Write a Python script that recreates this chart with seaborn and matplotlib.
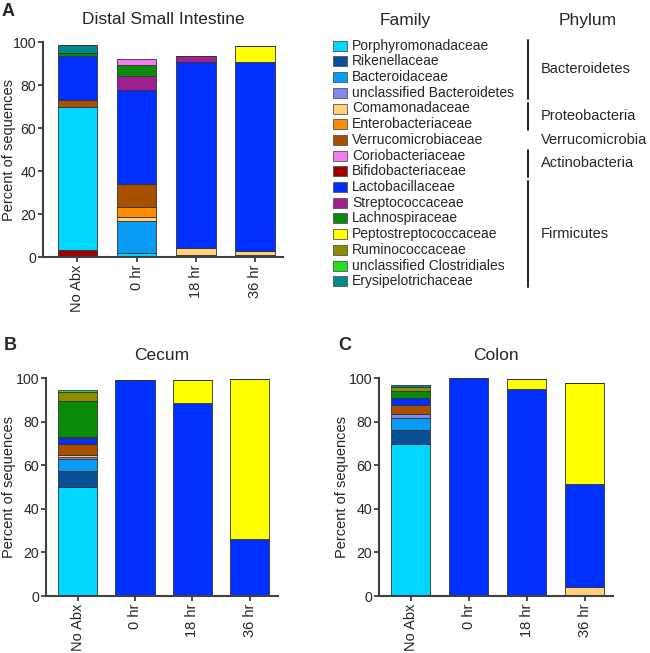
import numpy as np
import pandas as pd
import matplotlib
matplotlib.use("Agg")
import matplotlib.pyplot as plt
from matplotlib.patches import Rectangle
from matplotlib.lines import Line2D
import seaborn as sns

# ---------------- data ----------------
families = ["Porphyromonadaceae", "Rikenellaceae", "Bacteroidaceae",
            "unclassified Bacteroidetes", "Comamonadaceae", "Enterobacteriaceae",
            "Verrucomicrobiaceae", "Coriobacteriaceae", "Bifidobacteriaceae",
            "Lactobacillaceae", "Streptococcaceae", "Lachnospiraceae",
            "Peptostreptococcaceae", "Ruminococcaceae", "unclassified Clostridiales",
            "Erysipelotrichaceae"]
colors = ["#00D8FF", "#0A5096", "#0A9BF5", "#8088F0", "#FFD27A", "#FF8C00",
          "#A85000", "#F07EF0", "#A00000", "#0030FF", "#A0208F", "#0A8A0A",
          "#FFFF00", "#8F8C00", "#20E020", "#008A8A"]
# bottom-to-top stacking order
stack_order = ["Bifidobacteriaceae", "Porphyromonadaceae", "Rikenellaceae",
               "Bacteroidaceae", "unclassified Bacteroidetes", "Comamonadaceae",
               "Enterobacteriaceae", "Verrucomicrobiaceae", "Lactobacillaceae",
               "Streptococcaceae", "Lachnospiraceae", "Peptostreptococcaceae",
               "Ruminococcaceae", "unclassified Clostridiales", "Erysipelotrichaceae",
               "Coriobacteriaceae"]
conditions = ["No Abx", "0 hr", "18 hr", "36 hr"]

# values per family (in `families` order), percent of sequences
dsi_no_abx = [66.7, 0, 0, 0, 0, 0, 3.4, 0, 3.1, 20.4, 0, 1.5, 0, 0, 0, 3.6]
dsi_0hr    = [1.9, 0, 14.8, 0, 1.9, 4.5, 10.7, 3.0, 0, 43.7, 6.5, 5.1, 0, 0, 0, 0]
dsi_18hr   = [0.9, 0, 0, 0, 3.1, 0, 0, 0, 0, 86.9, 2.7, 0, 0, 0, 0, 0]
dsi_36hr   = [0, 0.9, 0, 0, 1.9, 0, 0, 0, 0, 87.9, 0, 0, 7.4, 0, 0, 0]

cec_no_abx = [49.8, 7.5, 5.5, 0.8, 0.9, 0.4, 4.8, 0, 0, 2.8, 0.5, 16.4, 0, 4.0, 1.2, 0]
cec_0hr    = [0, 0, 0, 0, 0, 0, 0, 0, 0, 99.1, 0, 0, 0, 0, 0, 0]
cec_18hr   = [0, 0, 0, 0, 0, 0, 0, 0, 0, 88.5, 0, 0, 10.4, 0, 0, 0]
cec_36hr   = [0, 0, 0, 0, 0, 0, 0, 0, 0, 26.2, 0, 0, 73.2, 0, 0, 0]

col_no_abx = [69.9, 6.1, 5.8, 1.8, 0, 0, 4.0, 0, 0, 3.4, 0, 3.0, 0, 1.9, 0, 1.0]
col_0hr    = [0, 0, 0, 0, 0, 0, 0, 0, 0, 99.8, 0, 0, 0, 0, 0, 0]
col_18hr   = [0, 0, 0, 0, 0, 0, 0, 0, 0, 95.1, 0, 0, 4.6, 0, 0, 0]
col_36hr   = [0, 0, 0, 0, 4.0, 0, 0, 0, 0, 47.4, 0, 0, 46.5, 0, 0, 0]

phyla = ["Bacteroidetes", "Proteobacteria", "Verrucomicrobia", "Actinobacteria", "Firmicutes"]
phylum_span = [(0, 3), (4, 5), (6, 6), (7, 8), (9, 15)]  # legend rows covered

# ---------------- styling ----------------
sns.set_theme(style="ticks")
plt.rcParams["font.family"] = ["Liberation Sans", "DejaVu Sans"]
palette = dict(zip(families, colors))
W, H = 650, 653
fig = plt.figure(figsize=(W / 100, H / 100), dpi=100)


def fx(px):
    return px / W


def fy(py):
    return 1 - py / H


def make_df(series):
    rows = []
    for cond, vals in zip(conditions, series):
        for fam in stack_order:
            v = vals[families.index(fam)]
            if v > 0:
                rows.append((cond, fam, v))
    return pd.DataFrame(rows, columns=["cond", "family", "pct"])


def rect_px(l, r, t, b):
    return [l / W, 1 - b / H, (r - l) / W, (b - t) / H]


def panel(lrtb, series, title, letter, letter_xy, title_y, xlim, shrink, ylab_right):
    rect = rect_px(*lrtb)
    ax = fig.add_axes(rect)
    df = make_df(series)
    present = set(df["family"])
    # seaborn stacks the last hue level at the bottom -> reverse the stacking order
    hue_order = [f for f in stack_order if f in present][::-1]
    sns.histplot(data=df, x="cond", weights="pct", hue="family", hue_order=hue_order,
                 palette=palette, multiple="stack", discrete=True, shrink=shrink,
                 edgecolor="#333333", linewidth=0.6, alpha=1, legend=False, ax=ax)
    ax.set_xlim(*xlim)
    ax.set_ylim(0, 100)
    ax.set_yticks([0, 20, 40, 60, 80, 100])
    ax.set_xticks(range(4))
    ax.set_xticklabels(conditions, rotation=90, fontsize=10.5)
    ax.tick_params(axis="y", labelsize=10.2, pad=1.5)
    ax.tick_params(axis="x", pad=2)
    ax.tick_params(axis="both", direction="out", length=3.5, width=1.3, color="#404040")
    ax.set_xlabel("")
    ax.set_ylabel("Percent of sequences", fontsize=10.5)
    ax.yaxis.set_label_coords((ylab_right - lrtb[0]) / (lrtb[1] - lrtb[0]), 0.5)
    for s in ["top", "right"]:
        ax.spines[s].set_visible(False)
    for s in ["left", "bottom"]:
        ax.spines[s].set_linewidth(1.5)
        ax.spines[s].set_color("#404040")
    fig.text(fx((lrtb[0] + lrtb[1]) / 2), fy(title_y), title, ha="center", va="center",
             fontsize=12.5)
    fig.text(fx(letter_xy[0]), fy(letter_xy[1]), letter, ha="left", va="center",
             fontsize=13, fontweight="bold")
    return ax


panel((43, 283, 42, 257), [dsi_no_abx, dsi_0hr, dsi_18hr, dsi_36hr],
      "Distal Small Intestine", "A", (2, 12), 20, (-0.58, 3.47), 0.67, 16)
panel((46, 278, 378, 596), [cec_no_abx, cec_0hr, cec_18hr, cec_36hr],
      "Cecum", "B", (4, 345), 355, (-0.55, 3.49), 0.68, 16)
panel((379, 613, 378, 596), [col_no_abx, col_0hr, col_18hr, col_36hr],
      "Colon", "C", (338, 345), 355, (-0.55, 3.49), 0.67, 349)

# ---------------- legend ----------------
fig.text(fx(405), fy(20), "Family", ha="center", va="center", fontsize=12.5)
fig.text(fx(588), fy(20), "Phylum", ha="center", va="center", fontsize=12.5)
y0, dy = 45.7, 15.7
for i, (fam, c) in enumerate(zip(families, colors)):
    yc = y0 + i * dy
    fig.patches.append(Rectangle((fx(333), fy(yc + 5)), fx(14), 10 / H, facecolor=c,
                                 edgecolor="#555555", linewidth=0.6,
                                 transform=fig.transFigure, figure=fig))
    fig.text(fx(352), fy(yc), fam, ha="left", va="center", fontsize=10)
for ph, (a, b) in zip(phyla, phylum_span):
    ya = y0 + a * dy - 6
    yb = y0 + b * dy + 6
    if ph != "Verrucomicrobia":
        fig.lines.append(Line2D([fx(528), fx(528)], [fy(ya), fy(yb)], color="#222222",
                                linewidth=1.4, transform=fig.transFigure, figure=fig))
    fig.text(fx(541), fy((ya + yb) / 2), ph, ha="left", va="center", fontsize=10.5)

fig.savefig("out.png", dpi=100)
